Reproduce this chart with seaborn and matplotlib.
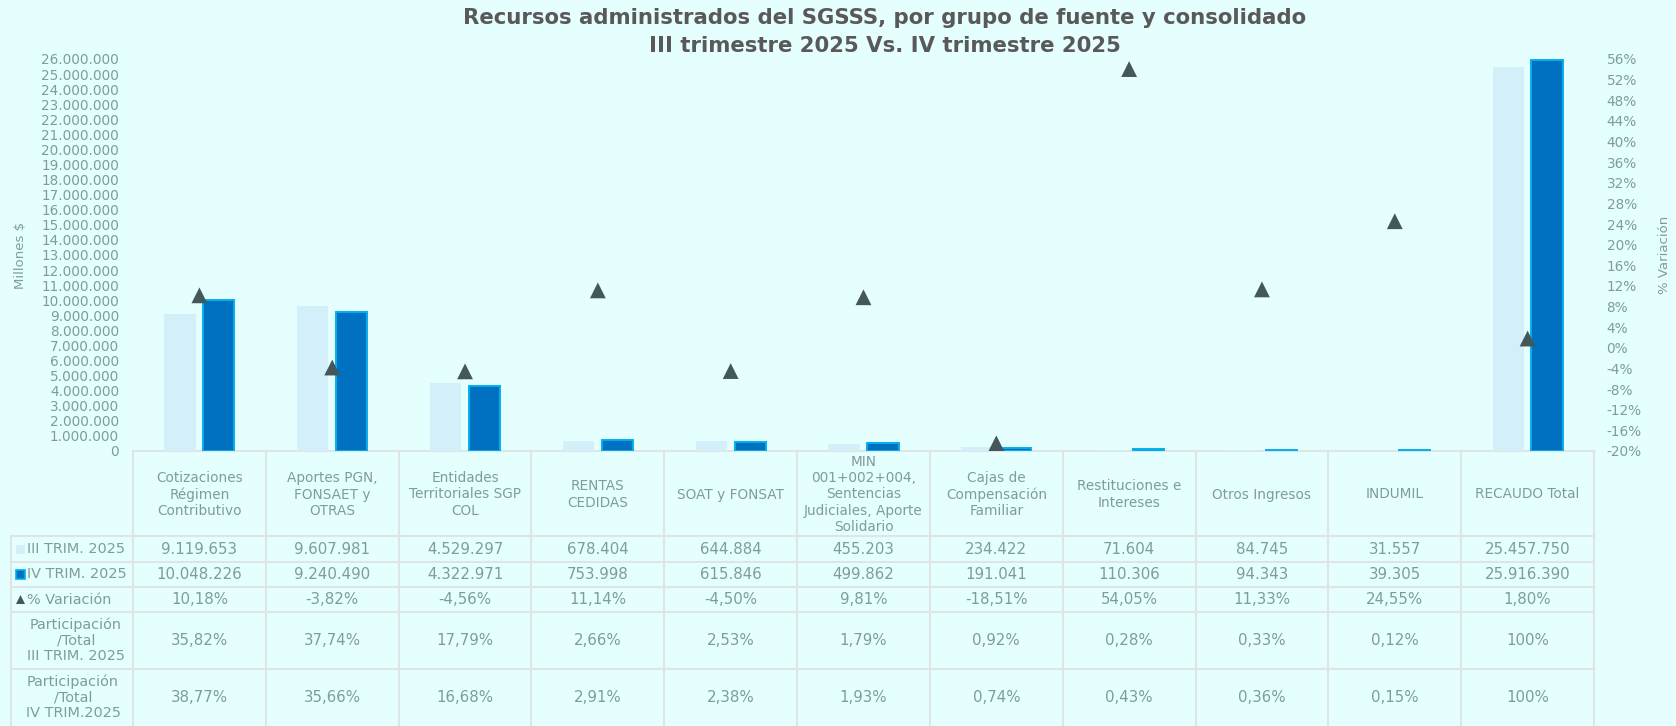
import numpy as np
import pandas as pd
import matplotlib
matplotlib.use("Agg")
import matplotlib.pyplot as plt
import matplotlib.patches as mpatches
import seaborn as sns

# Datos (millones de pesos)
categorias = [
    "Cotizaciones\nRégimen\nContributivo",
    "Aportes PGN,\nFONSAET y\nOTRAS",
    "Entidades\nTerritoriales SGP\nCOL",
    "RENTAS\nCEDIDAS",
    "SOAT y FONSAT",
    "MIN\n001+002+004,\nSentencias\nJudiciales, Aporte\nSolidario",
    "Cajas de\nCompensación\nFamiliar",
    "Restituciones e\nIntereses",
    "Otros Ingresos",
    "INDUMIL",
    "RECAUDO Total",
]
trim_iii = [9119653, 9607981, 4529297, 678404, 644884, 455203, 234422, 71604, 84745, 31557, 25457750]
trim_iv = [10048226, 9240490, 4322971, 753998, 615846, 499862, 191041, 110306, 94343, 39305, 25916390]
variacion = [10.18, -3.82, -4.56, 11.14, -4.50, 9.81, -18.51, 54.05, 11.33, 24.55, 1.80]
part_iii = [35.82, 37.74, 17.79, 2.66, 2.53, 1.79, 0.92, 0.28, 0.33, 0.12, 100]
part_iv = [38.77, 35.66, 16.68, 2.91, 2.38, 1.93, 0.74, 0.43, 0.36, 0.15, 100]
series = ["III TRIM. 2025", "IV TRIM. 2025"]

BG = "#E5FFFF"
LIGHT = "#D3EFFA"
DARK = "#0070C0"
EDGE = "#00B0F0"
TRI = "#44585A"
TXT = "#809B9B"
GRID = "#DFE5E5"

W, H = 1676, 726
X0, X1 = 133, 1594
Y_TOP, Y_ZERO = 59, 451

plt.rcParams["font.family"] = ["DejaVu Sans"]


def fmt_miles(v):
    return f"{v:,}".replace(",", ".")


def fmt_pct(v):
    if v == 100:
        return "100%"
    return f"{v:.2f}%".replace(".", ",")


fig = plt.figure(figsize=(W / 100, H / 100), dpi=100, facecolor=BG)

# tabla en coordenadas de pixel
tab = fig.add_axes([0, 0, 1, 1])
tab.set_xlim(0, W)
tab.set_ylim(H, 0)
tab.axis("off")

# grafico principal
ax = fig.add_axes([X0 / W, (H - Y_ZERO) / H, (X1 - X0) / W, (Y_ZERO - Y_TOP) / H])
ax.set_facecolor("none")

df = pd.DataFrame({
    "cat": list(range(len(categorias))) * 2,
    "valor": trim_iii + trim_iv,
    "periodo": [series[0]] * len(categorias) + [series[1]] * len(categorias),
})
df["cat"] = df["cat"].astype(str)
sns.barplot(data=df, x="cat", y="valor", hue="periodo", palette=[LIGHT, DARK],
            width=0.586, gap=0.2, ax=ax, legend=False, saturation=1, errorbar=None)
for p in ax.containers[1]:
    p.set_edgecolor(EDGE)
    p.set_linewidth(1.4)
for p in ax.containers[0]:
    p.set_edgecolor("none")

ax.set_xlim(-0.5, len(categorias) - 0.5)
ax.set_ylim(0, 26_000_000)
ax.set_yticks(np.arange(0, 26_000_001, 1_000_000))
ax.set_yticklabels([fmt_miles(int(t)) for t in ax.get_yticks()])
ax.set_xticks([])
ax.set_xlabel("")
ax.set_ylabel("Millones $", color=TXT, fontsize=9.5, labelpad=10)
ax.tick_params(axis="y", length=0, pad=10, labelsize=9.8, labelcolor=TXT)
for s in ax.spines.values():
    s.set_visible(False)

ax2 = ax.twinx()
ax2.set_facecolor("none")
sns.scatterplot(x=np.arange(len(categorias)), y=np.array(variacion) / 100, marker="^",
                s=130, color=TRI, edgecolor="none", linewidth=0, ax=ax2, zorder=5)
ax2.set_ylim(-0.20, 0.56)
ax2.set_yticks(np.arange(-0.20, 0.5601, 0.04))
ax2.set_yticklabels([f"{round(t * 100)}%" for t in ax2.get_yticks()])
ax2.tick_params(axis="y", length=0, pad=9, labelsize=9.8, labelcolor=TXT)
ax2.set_ylabel("% Variación", color=TXT, fontsize=9.5, labelpad=12)
for s in ax2.spines.values():
    s.set_visible(False)
ax.set_xlim(-0.5, len(categorias) - 0.5)

# titulo
fig.text(885 / W, 1 - 18 / H, "Recursos administrados del SGSSS, por grupo de fuente y consolidado",
         ha="center", va="center", fontsize=15.3, fontweight="bold", color="#595959")
fig.text(885 / W, 1 - 46 / H, "III trimestre 2025 Vs. IV trimestre 2025",
         ha="center", va="center", fontsize=15.3, fontweight="bold", color="#595959")

# tabla de datos
rows = [451, 536, 562, 587, 612, 669, 726]
ncol = len(categorias)
cw = (X1 - X0) / ncol
lw = 1.5
tab.plot([X0, X1], [rows[0], rows[0]], color=GRID, lw=lw)
for y in rows[1:-1]:
    tab.plot([11, X1], [y, y], color=GRID, lw=lw)
tab.plot([11, 11], [rows[1], H], color=GRID, lw=lw)
for k in range(ncol + 1):
    x = X0 + k * cw
    tab.plot([x, x], [rows[0], H], color=GRID, lw=lw)

fs = 10.8
for k, cat in enumerate(categorias):
    xc = X0 + (k + 0.5) * cw
    tab.text(xc, (rows[0] + rows[1]) / 2 + 1, cat, ha="center", va="center",
             fontsize=9.8, color=TXT, linespacing=1.22)
    vals = [fmt_miles(trim_iii[k]), fmt_miles(trim_iv[k]), fmt_pct(variacion[k]),
            fmt_pct(part_iii[k]), fmt_pct(part_iv[k])]
    for r, v in enumerate(vals):
        tab.text(xc, (rows[r + 1] + rows[r + 2]) / 2, v, ha="center", va="center",
                 fontsize=fs, color=TXT)

# etiquetas de fila con simbolos
fl = 10.4
tab.add_patch(mpatches.Rectangle((16, 545), 9, 9, facecolor=LIGHT, edgecolor="none"))
tab.add_patch(mpatches.Rectangle((16, 570), 9, 9, facecolor=DARK, edgecolor=EDGE, lw=1.2))
tab.add_patch(mpatches.Polygon([[16, 604], [25, 604], [20.5, 595]], closed=True,
                               facecolor=TRI, edgecolor="none"))
tab.text(27, (rows[1] + rows[2]) / 2, series[0], ha="left", va="center", fontsize=fl, color=TXT)
tab.text(27, (rows[2] + rows[3]) / 2, series[1], ha="left", va="center", fontsize=fl, color=TXT)
tab.text(27, (rows[3] + rows[4]) / 2, "% Variación", ha="left", va="center", fontsize=fl, color=TXT)
tab.text(76, (rows[4] + rows[5]) / 2, "Participación\n/Total\nIII TRIM. 2025", ha="center",
         va="center", fontsize=fl, color=TXT, linespacing=1.15)
tab.text(73, (rows[5] + rows[6]) / 2, "Participación\n/Total\nIV TRIM.2025", ha="center",
         va="center", fontsize=fl, color=TXT, linespacing=1.15)

fig.savefig("out.png", dpi=100, facecolor=BG)
